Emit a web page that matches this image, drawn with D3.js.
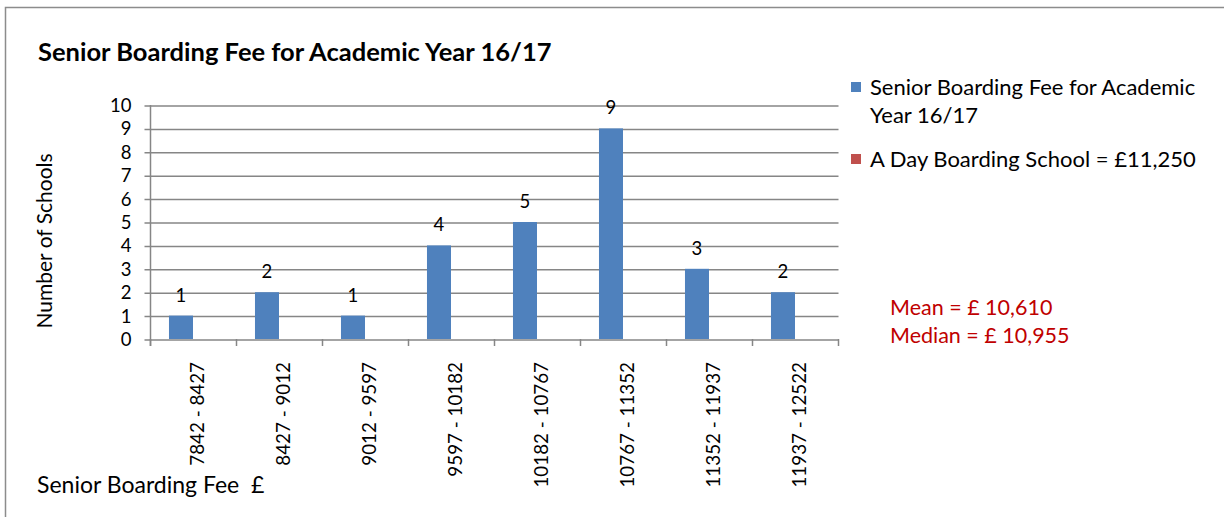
<!DOCTYPE html>
<html>
<head>
<meta charset="utf-8">
<script src="https://cdn.jsdelivr.net/npm/d3@7"></script>
<style>
  html, body { margin: 0; padding: 0; background: #fff; }
  svg { display: block; font-family: Lato, "Open Sans", sans-serif; }
</style>
</head>
<body>
<svg id="chart" width="1224" height="517"></svg>
<script>
// ---- data ----
const categories = ["7842 - 8427", "8427 - 9012", "9012 - 9597", "9597 - 10182",
                    "10182 - 10767", "10767 - 11352", "11352 - 11937", "11937 - 12522"];
const feeCounts = [1, 2, 1, 4, 5, 9, 3, 2];
const dayBoardingValues = [null, null, null, null, null, null, null, null];
const seriesNames = ["Senior Boarding Fee for Academic Year 16/17", "A Day Boarding School = £11,250"];
const yTicks = [0, 1, 2, 3, 4, 5, 6, 7, 8, 9, 10];
const statLines = ["Mean = £ 10,610", "Median = £ 10,955"];
const chartTitle = "Senior Boarding Fee for Academic Year 16/17";
const yTitle = "Number of Schools";
const xTitle = "Senior Boarding Fee  £";

// ---- layout ----
const svg = d3.select("#chart");
const plot = { left: 150, right: 838, top: 105, bottom: 339 };
const gridColor = "#868686";
const colors = ["#4F81BD", "#C0504D"];

// outer chart border (only top and left visible in frame)
svg.append("path")
  .attr("d", "M5.5,530 V7.5 H1240")
  .attr("fill", "none").attr("stroke", "#8c8c8c").attr("stroke-width", 1.5);

// title
svg.append("text").attr("x", 38).attr("y", 61)
  .attr("font-size", 25.5).attr("font-weight", "bold").attr("fill", "#000")
  .text(chartTitle);

const x = d3.scaleBand().domain(categories).range([plot.left, plot.right]).paddingInner(0).paddingOuter(0);
const x1 = d3.scaleBand().domain(["fee", "day"]).range([0, x.bandwidth()]).paddingInner(0).paddingOuter(0.79);
const y = d3.scaleLinear().domain([0, 10]).range([plot.bottom, plot.top]);

// gridlines + y axis
const yAxis = d3.axisLeft(y).tickValues(yTicks).tickSize(6).tickPadding(13).tickFormat(d3.format("d"));
const gy = svg.append("g").attr("transform", `translate(${plot.left + 0.5},0.5)`).call(yAxis);
gy.select(".domain").remove();
gy.selectAll(".tick line").attr("stroke", gridColor).attr("stroke-width", 1.5)
  .attr("x1", -6).attr("x2", plot.right - plot.left);
gy.selectAll(".tick text").attr("font-size", 18.5).attr("font-family", "Lato").attr("fill", "#000");

// vertical axis line
svg.append("line").attr("x1", plot.left + 0.5).attr("x2", plot.left + 0.5)
  .attr("y1", plot.top).attr("y2", plot.bottom + 7)
  .attr("stroke", gridColor).attr("stroke-width", 1.5);

// x axis ticks at category boundaries
const boundaries = categories.map(c => x(c)).concat([plot.right]);
svg.append("g").selectAll("line").data(boundaries).join("line")
  .attr("x1", d => d + 0.5).attr("x2", d => d + 0.5)
  .attr("y1", plot.bottom).attr("y2", plot.bottom + 7)
  .attr("stroke", gridColor).attr("stroke-width", 1.5);

// bars
const barData = categories.map((c, i) => ({ c, v: feeCounts[i] }));
svg.append("g").selectAll("rect").data(barData).join("rect")
  .attr("x", d => x(d.c) + x1("fee"))
  .attr("width", x1.bandwidth())
  .attr("y", d => y(d.v))
  .attr("height", d => y(0) - y(d.v))
  .attr("fill", colors[0]);

// second series (no visible bars)
const dayData = categories.map((c, i) => ({ c, v: dayBoardingValues[i] })).filter(d => d.v != null);
svg.append("g").selectAll("rect").data(dayData).join("rect")
  .attr("x", d => x(d.c) + x1("day"))
  .attr("width", x1.bandwidth())
  .attr("y", d => y(d.v))
  .attr("height", d => y(0) - y(d.v))
  .attr("fill", colors[1]);

// data labels
svg.append("g").selectAll("text").data(barData).join("text")
  .attr("x", d => x(d.c) + x1("fee") + x1.bandwidth() / 2)
  .attr("y", d => y(d.v) - 14)
  .attr("text-anchor", "middle").attr("font-size", 18.5).attr("fill", "#000")
  .text(d => d.v);

// x category labels (rotated)
svg.append("g").selectAll("text").data(categories).join("text")
  .attr("transform", d => `translate(${x(d) + x.bandwidth() / 2 + 3.5},362) rotate(-90)`)
  .attr("text-anchor", "end").attr("dominant-baseline", "central")
  .attr("font-size", 18.8).attr("fill", "#000")
  .text(d => d);

// axis titles
svg.append("text")
  .attr("transform", "translate(52,241) rotate(-90)")
  .attr("text-anchor", "middle").attr("font-size", 21).attr("fill", "#000")
  .text(yTitle);
svg.append("text").attr("x", 37).attr("y", 493)
  .attr("font-size", 23).attr("fill", "#000").style("white-space", "pre")
  .attr("xml:space", "preserve")
  .text(xTitle);

// legend
const legend = svg.append("g");
const legendRows = [
  { lines: ["Senior Boarding Fee for Academic", "Year 16/17"], y: 82, color: colors[0] },
  { lines: ["A Day Boarding School = £11,250"], y: 154, color: colors[1] }
];
legendRows.forEach(r => {
  legend.append("rect").attr("x", 851).attr("y", r.y).attr("width", 10).attr("height", 10).attr("fill", r.color);
  r.lines.forEach((t, j) => {
    legend.append("text").attr("x", 870).attr("y", r.y + 13 + j * 28)
      .attr("font-size", 22).attr("fill", "#000").text(t);
  });
});

// mean / median annotation
svg.append("g").selectAll("text").data(statLines).join("text")
  .attr("x", 890).attr("y", (d, i) => 315 + i * 28)
  .attr("font-size", 21.5).attr("fill", "#C00000").text(d => d);
</script>
</body>
</html>
